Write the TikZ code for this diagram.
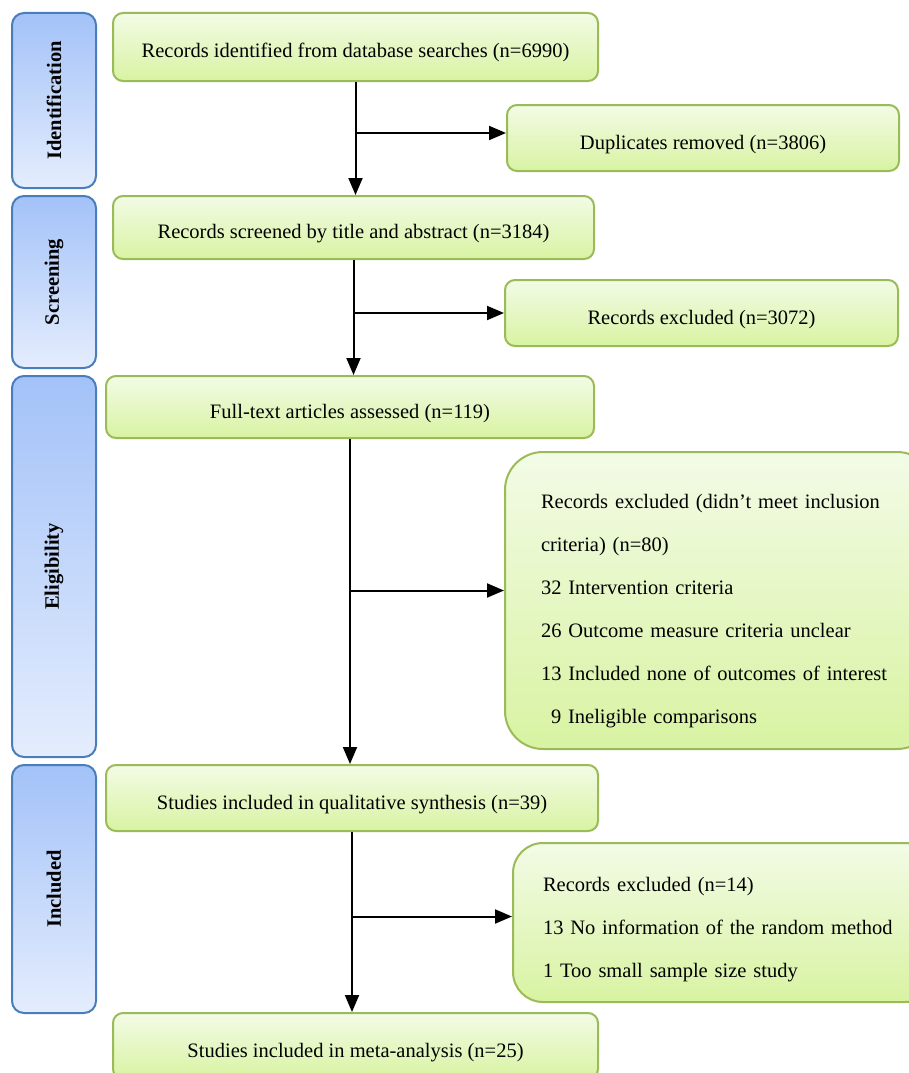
\documentclass[tikz,border=0pt]{standalone}
\usepackage{fontspec}
\setmainfont{Liberation Serif}
\usepackage{graphicx}
\usetikzlibrary{arrows.meta}
\definecolor{boxedge}{HTML}{9BBB59}
\definecolor{boxtop}{HTML}{F3FBE6}
\definecolor{boxbot}{HTML}{D8F3A2}
\definecolor{sideedge}{HTML}{4A7EBB}
\definecolor{sidetop}{HTML}{A3C2F8}
\definecolor{sidebot}{HTML}{E4EDFD}

\begin{document}
\begin{tikzpicture}[x=1pt, y=-1pt,
  font=\fontsize{20.5}{24.6}\selectfont,
  stagebox/.style={draw=boxedge, line width=2pt, rounded corners=10pt,
    top color=boxtop, bottom color=boxbot, inner sep=0pt},
  onebox/.style={stagebox, text height=26pt, text depth=4pt},
  exclbox/.style={stagebox, rounded corners=38pt, align=left, inner xsep=36pt,
    font=\fontsize{20.5}{43}\selectfont},
  sidebox/.style={draw=sideedge, line width=2pt, rounded corners=12pt,
    top color=sidetop, bottom color=sidebot, minimum width=84pt, inner sep=0pt},
  arr/.style={line width=2pt, -{Triangle[length=17pt, width=14pt]}}]
\useasboundingbox (0,0) rectangle (908,1073);

\node[sidebox, minimum height=175pt] (sid) at (54,100.5) {\rotatebox{90}{\bfseries Identification}};
\node[sidebox, minimum height=172pt] (sscr) at (54,282) {\rotatebox{90}{\bfseries Screening}};
\node[sidebox, minimum height=381pt] (selig) at (54,566.5) {\rotatebox{90}{\bfseries Eligibility}};
\node[sidebox, minimum height=248pt] (sinc) at (54,889) {\rotatebox{90}{\bfseries Included}};

\node[onebox, minimum width=485pt, minimum height=68pt] (ident) at (355.5,47) {Records identified from database searches (n=6990)};
\node[onebox, minimum width=392pt, minimum height=66pt] (dupl) at (703,138) {Duplicates removed (n=3806)};
\node[onebox, minimum width=481pt, minimum height=63pt] (screen) at (353.5,227.5) {Records screened by title and abstract (n=3184)};
\node[onebox, minimum width=393pt, minimum height=66pt] (excla) at (701.5,313) {Records excluded (n=3072)};
\node[onebox, minimum width=488pt, minimum height=62pt] (full) at (350,407) {Full-text articles assessed (n=119)};
\node[exclbox, minimum width=430pt, minimum height=297pt, text width=358pt] (exclb) at (720,600.5)
  {\rule{0pt}{35pt}Records excluded (didn’t meet inclusion\\ criteria) (n=80)\\ 32 Intervention criteria\\
   26 Outcome measure criteria unclear\\ 13 Included none of outcomes of interest\\ \hspace*{10pt}9 Ineligible comparisons};
\node[onebox, minimum width=492pt, minimum height=66pt] (qual) at (352,798) {Studies included in qualitative synthesis (n=39)};
\node[exclbox, rounded corners=30pt, inner xsep=30pt, minimum width=422pt, minimum height=159pt, text width=362pt] (exclc) at (724,922.5)
  {\rule{0pt}{29pt}Records excluded (n=14)\\ 13 No information of the random method\\ 1 Too small sample size study};
\node[onebox, minimum width=485pt, minimum height=66pt] (meta) at (355.5,1046) {Studies included in meta-analysis (n=25)};

\coordinate (duplin) at ([yshift=5pt]dupl.west);
\coordinate (exclbin) at ([yshift=10pt]exclb.west);
\coordinate (exclcin) at ([yshift=6pt]exclc.west);

\draw[arr] (ident.south) -- (ident.south |- screen.north);
\draw[arr] (ident.south |- duplin) -- (duplin);
\draw[arr] (screen.south) -- (screen.south |- full.north);
\draw[arr] (screen.south |- excla.west) -- (excla.west);
\draw[arr] (full.south) -- (full.south |- qual.north);
\draw[arr] (full.south |- exclbin) -- (exclbin);
\draw[arr] (qual.south) -- (qual.south |- meta.north);
\draw[arr] (qual.south |- exclcin) -- (exclcin);
\end{tikzpicture}
\end{document}
